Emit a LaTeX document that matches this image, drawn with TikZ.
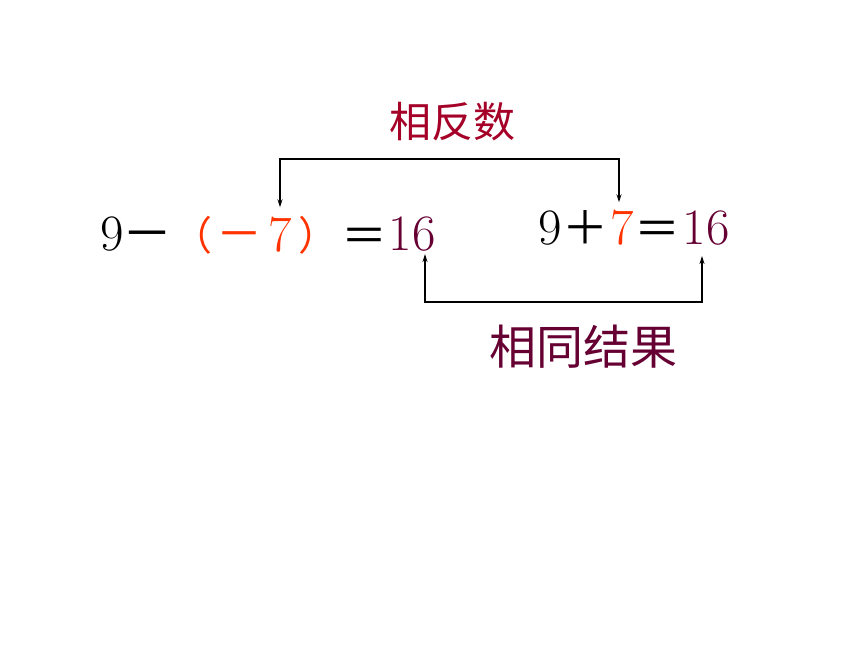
\documentclass[tikz,border=0pt]{standalone}
\usepackage{fontspec}
\newfontfamily\cjk{Noto Sans CJK SC}
\usetikzlibrary{arrows.meta}
\definecolor{crim}{RGB}{165,0,40}
\definecolor{maroon}{RGB}{102,0,51}
\definecolor{orng}{RGB}{255,51,0}
\tikzset{
  dig/.style={inner sep=0pt, anchor=base, font=\fontsize{51}{60}\selectfont},
  sym/.style={inner sep=0pt, anchor=center, font=\cjk\fontsize{46}{55}\selectfont},
  lbl/.style={inner sep=0pt, anchor=center, font=\cjk\fontsize{#1}{#1}\selectfont},
  conn/.style={line width=1.1pt, {Stealth[length=8pt,width=5pt]}-{Stealth[length=8pt,width=5pt]}}
}
\begin{document}
\begin{tikzpicture}[x=1pt,y=-1pt]
\useasboundingbox[fill=white] (0,0) rectangle (860,645);
% left equation
\node[dig] (l9) at (112,250) {9};
\node[sym,font=\cjk\fontsize{50}{55}\selectfont] (lm1) at (147,241) {－};
\node[sym,text=orng,font=\cjk\fontsize{40}{50}\selectfont] (lpo) at (192,235) {（};
\node[sym,text=orng] (lm2) at (239,241) {－};
\node[dig,text=orng] (l7) at (280,251) {7};
\node[sym,text=orng,font=\cjk\fontsize{40}{50}\selectfont] (lpc) at (318,235) {）};
\node[sym] (leq) at (364,240) {＝};
\node[dig,text=maroon] (l16) at (412,250) {16};
% right equation
\node[dig] (r9) at (550,244) {9};
\node[sym] (rp) at (585,228) {＋};
\node[dig,text=orng] (r7) at (622,244) {7};
\node[sym] (req) at (657,233) {＝};
\node[dig,text=maroon] (r16) at (706,244) {16};
% labels
\node[lbl=42,text=crim] (top) at (452,122) {相反数};
\node[lbl=47,text=maroon] (bot) at (583,347) {相同结果};
% connectors
\coordinate (topbar) at (450,159);
\coordinate (botbar) at (560,302);
\draw[conn] ([yshift=9pt]l7.north) |- (topbar) -| ([yshift=7pt,xshift=-3pt]r7.north);
\draw[conn] ([xshift=13pt,yshift=-3pt]l16.south) |- (botbar) -| ([xshift=-4pt,yshift=-11pt]r16.south);
\end{tikzpicture}
\end{document}
